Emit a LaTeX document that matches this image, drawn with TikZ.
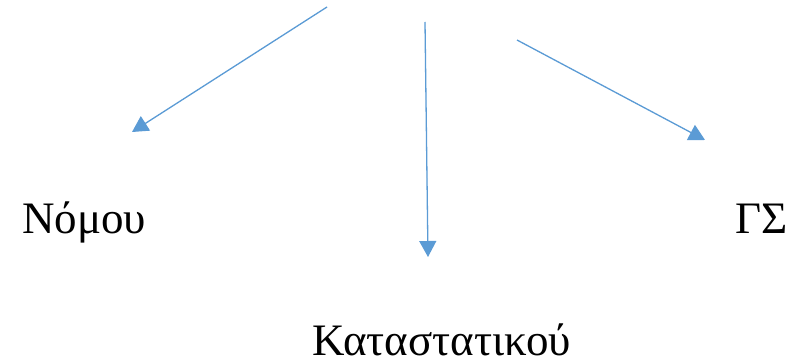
\documentclass[tikz,border=0pt]{standalone}
\usepackage{fontspec}
\setmainfont{Liberation Serif}
\usetikzlibrary{arrows.meta}

\definecolor{linkblue}{HTML}{5B9BD5}

\begin{document}
\begin{tikzpicture}[
        x=1pt, y=-1pt,
        >={Triangle[length=16pt,width=17pt]},
        link/.style={->, draw=linkblue, fill=linkblue, line width=1.3pt},
        label/.style={inner sep=0pt, text depth=0pt, anchor=base west, font=\fontsize{45}{54}\selectfont}
    ]
        \useasboundingbox (0,0) rectangle (787,361);
        \coordinate (lstart) at (327,7);
        \coordinate (lend) at (132,132);
        \coordinate (mstart) at (425,22);
        \coordinate (mend) at (428,257);
        \coordinate (rstart) at (517,40);
        \coordinate (rend) at (705,140);
        \node[label] (nomou) at (22,233) {Νόμου};
        \node[label] (katastatikou) at (312,355) {Καταστατικού};
        \node[label] (gs) at (735,233) {ΓΣ};
        \draw[link] (lstart) -- (lend);
        \draw[link] (mstart) -- (mend);
        \draw[link] (rstart) -- (rend);
\end{tikzpicture}
\end{document}
